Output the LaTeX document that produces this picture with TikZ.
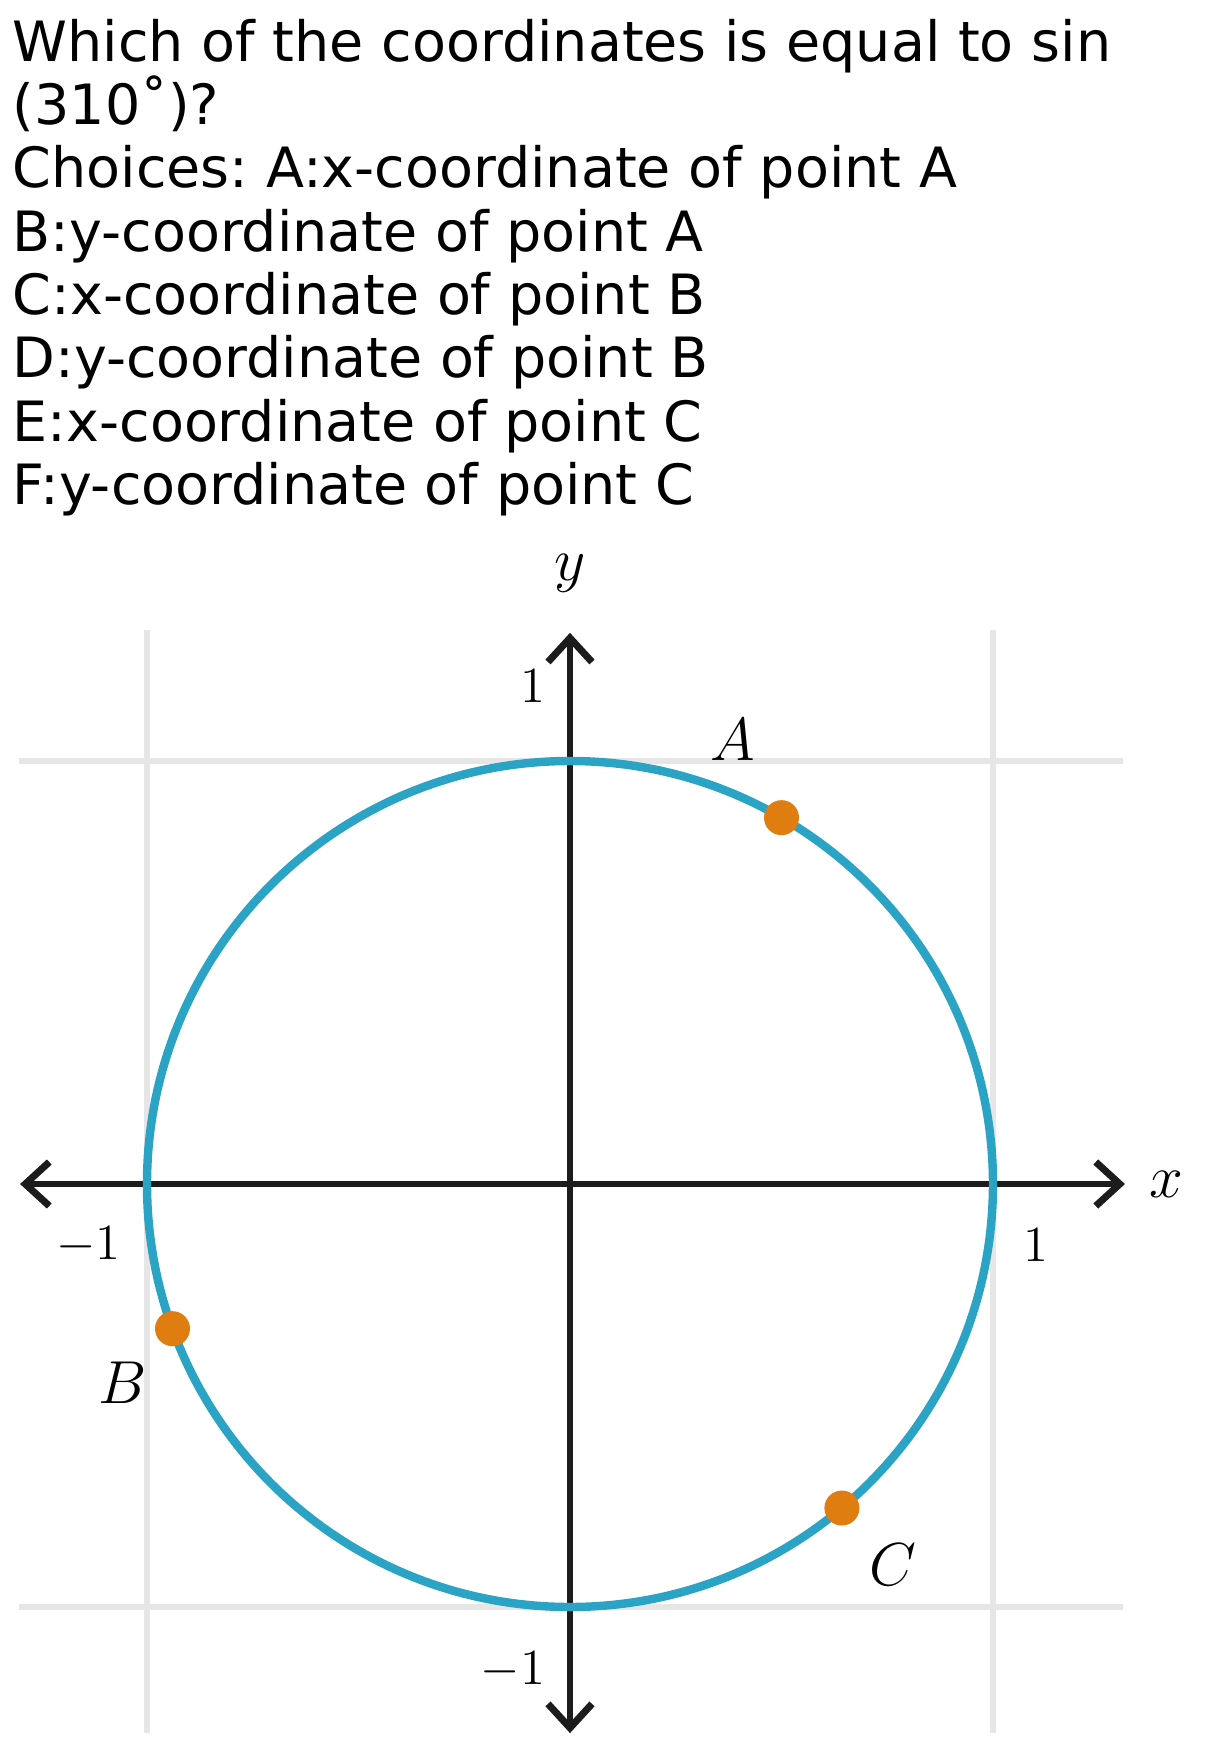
\documentclass[tikz,border=0pt]{standalone}
\usepackage{fontspec}
\setmainfont{DejaVu Sans}
\usetikzlibrary{arrows.meta}
\definecolor{unitblue}{HTML}{2AA3C4}
\definecolor{ptorange}{HTML}{E07D10}
\definecolor{gridgray}{HTML}{E6E6E6}
\definecolor{axisblack}{HTML}{1C1C1C}
\frenchspacing
\begin{document}
\begin{tikzpicture}[x=4.23cm, y=4.23cm,
  qline/.style={anchor=base west, inner sep=0pt, font=\fontsize{15.8pt}{18pt}\selectfont},
  gridline/.style={draw=gridgray, line width=1.7pt},
  axisline/.style={<->, draw=axisblack, line width=1.5pt},
  >={Straight Barb[length=0.24cm, width=0.44cm, line width=2pt]},
  unitcircle/.style={draw=unitblue, line width=2.4pt},
  dot/.style={circle, fill=ptorange, inner sep=0pt, minimum size=0.35cm},
  mlabel/.style={inner sep=0pt, font=\fontsize{17.5pt}{20pt}\selectfont},
  tlabel/.style={inner sep=0pt, font=\fontsize{15pt}{18pt}\selectfont}
]
\useasboundingbox (-1.3475,-1.3593) rectangle (1.5248,2.7991);
% question text
\node[qline] (q1) at (-1.319,2.654) {Which of the coordinates is equal to sin};
\node[qline] (q2) at (-1.319,2.5044) {(310˚)?};
\node[qline] (q3) at (-1.319,2.3548) {Choices: A:x-coordinate of point A};
\node[qline] (q4) at (-1.319,2.2052) {B:y-coordinate of point A};
\node[qline] (q5) at (-1.319,2.0556) {C:x-coordinate of point B};
\node[qline] (q6) at (-1.319,1.906) {D:y-coordinate of point B};
\node[qline] (q7) at (-1.319,1.7564) {E:x-coordinate of point C};
\node[qline] (q8) at (-1.319,1.6068) {F:y-coordinate of point C};
% grid
\foreach \g in {-1,1} {
  \draw[gridline] (\g,-1.298) -- (\g,1.310);
  \draw[gridline] (-1.303,\g) -- (1.307,\g);
}
% axes
\coordinate (xl) at (-1.300,0);
\coordinate (xr) at (1.312,0);
\coordinate (yb) at (0,-1.298);
\coordinate (yt) at (0,1.303);
\draw[axisline] (xl) -- (xr);
\draw[axisline] (yb) -- (yt);
\node[mlabel] (xlab) at (1.411,0) {$x$};
\node[mlabel] (ylab) at (0,1.444) {$y$};
\node[tlabel] (xone) at (1.102,-0.144) {$1$};
\node[tlabel] (xmone) at (-1.139,-0.144) {$-1$};
\node[tlabel] (yone) at (-0.087,1.177) {$1$};
\node[tlabel] (ymone) at (-0.135,-1.149) {$-1$};
% unit circle and points
\draw[unitcircle] (0,0) circle[radius=1];
\node[dot] (A) at (60:1) {};
\node[dot] (B) at (200:1) {};
\node[dot] (C) at (310:1) {};
\node[mlabel] (alab) at (0.385,1.050) {$A$};
\node[mlabel] (blab) at (-1.057,-0.470) {$B$};
\node[mlabel] (clab) at (0.764,-0.901) {$C$};
\end{tikzpicture}
\end{document}
